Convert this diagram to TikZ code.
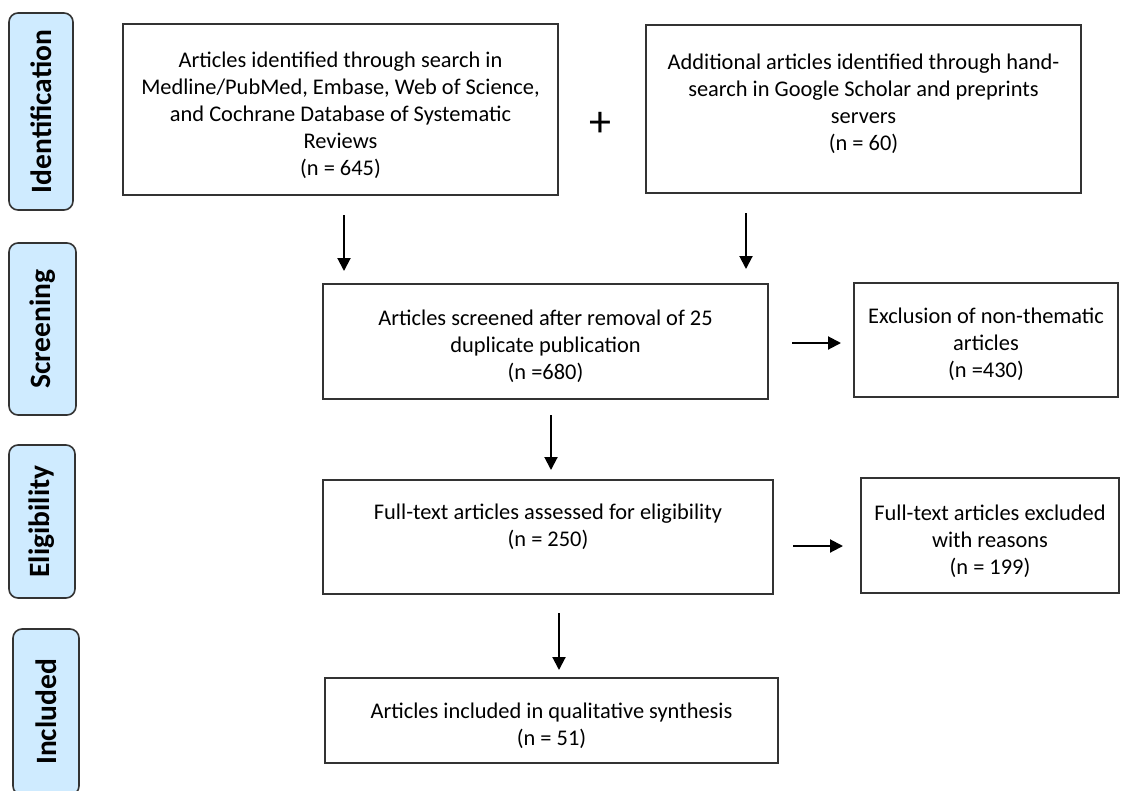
\documentclass[tikz,border=0pt]{standalone}
\usepackage{fontspec}
\setmainfont{Carlito}
\usetikzlibrary{arrows.meta}
\definecolor{labfill}{HTML}{CFEBFF}
\definecolor{edge}{HTML}{333333}
\tikzset{
  box/.style={draw=edge, line width=1.8pt, rectangle, inner sep=0pt},
  txt/.style={align=center, inner sep=0pt, font=\fontsize{22.4}{27}\selectfont},
  stage/.style={draw=edge, line width=1.6pt, fill=labfill, rounded corners=9pt, rotate=90,
    inner sep=0pt, font=\fontsize{29.5}{32}\selectfont\bfseries},
  arr/.style={line width=2pt, -{Triangle[length=13pt,width=13pt]}}
}
\begin{document}
\begin{tikzpicture}[x=1pt,y=-1pt]
\useasboundingbox (0,0) rectangle (1121,790);
% stage labels
\node[stage, minimum width=197, minimum height=64] (sid) at (41,111.5) {Identification};
\node[stage, minimum width=172, minimum height=67] (sscr) at (42.5,329) {Screening};
\node[stage, minimum width=153, minimum height=66] (selig) at (42,521.5) {Eligibility};
\node[stage, minimum width=166, minimum height=66] (sinc) at (46,712) {Included};
% boxes
\node[box, minimum width=435, minimum height=171] (b1) at (340.5,109.5) {};
\node[txt] (b1t) at (340.5,115)
  {Articles identified through search in\\Medline/PubMed, Embase, Web of Science,\\and Cochrane Database of Systematic\\Reviews\\(n = 645)};
\node[font=\fontsize{44}{44}\selectfont, inner sep=0pt] (plus) at (600,124) {+};
\node[box, minimum width=435, minimum height=168] (b2) at (863.5,109) {};
\node[txt] (b2t) at (863.5,104)
  {Additional articles identified through hand-\\search in Google Scholar and preprints\\servers\\(n = 60)};
\node[box, minimum width=445, minimum height=115] (scr) at (545.5,341.5) {};
\node[txt] (scrt) at (545.5,346.5)
  {Articles screened after removal of 25\\duplicate publication\\(n =680)};
\node[box, minimum width=264, minimum height=114] (exc1) at (986,340) {};
\node[txt] (exc1t) at (986,344)
  {Exclusion of non-thematic\\articles\\(n =430)};
\node[box, minimum width=450, minimum height=114] (elig) at (548,537) {};
\node[txt] (eligt) at (548,527) {Full-text articles assessed for eligibility\\(n = 250)};
\node[box, minimum width=258, minimum height=115] (exc2) at (990,535.5) {};
\node[txt] (exc2t) at (990,541)
  {Full-text articles excluded\\with reasons\\(n = 199)};
\node[box, minimum width=453, minimum height=85] (inc) at (551.5,720.5) {};
\node[txt] (inct) at (551.5,726) {Articles included in qualitative synthesis\\(n = 51)};
% arrow end coordinates
\coordinate (a1s) at (344,215); \coordinate (a1e) at (344,271);
\coordinate (a2s) at (746,213); \coordinate (a2e) at (746,269);
\coordinate (a3s) at (792,343); \coordinate (a3e) at (841,343);
\coordinate (a4s) at (551,415); \coordinate (a4e) at (551,470);
\coordinate (a5s) at (793,546); \coordinate (a5e) at (843,546);
\coordinate (a6s) at (559,613); \coordinate (a6e) at (559,670);
\draw[arr] (a1s) -- (a1e);
\draw[arr] (a2s) -- (a2e);
\draw[arr] (a3s) -- (a3e);
\draw[arr] (a4s) -- (a4e);
\draw[arr] (a5s) -- (a5e);
\draw[arr] (a6s) -- (a6e);
\end{tikzpicture}
\end{document}
